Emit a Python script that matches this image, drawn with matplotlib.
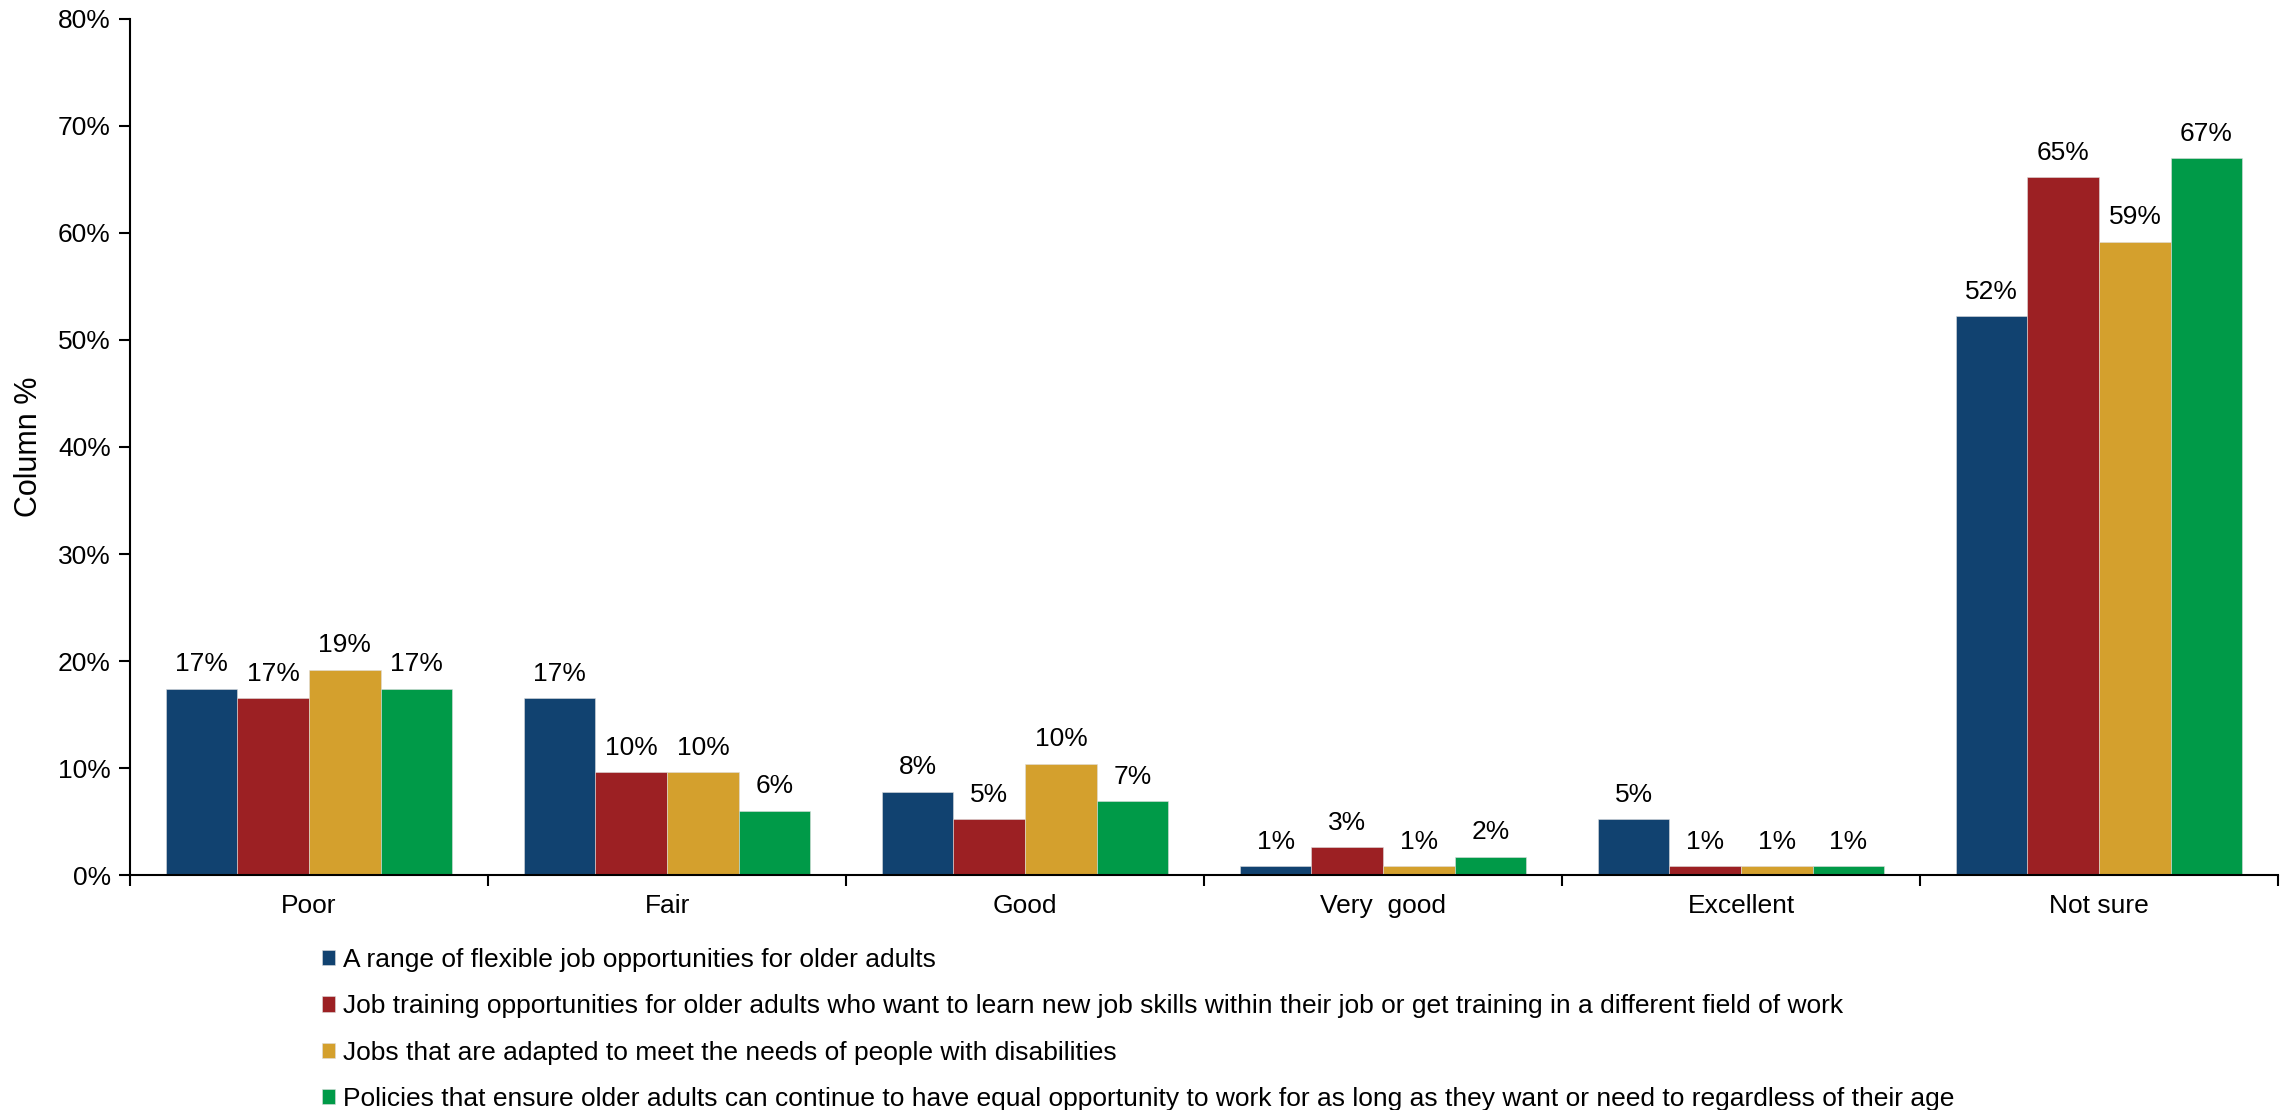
import matplotlib
matplotlib.use("Agg")
import matplotlib.pyplot as plt
import numpy as np
from matplotlib.ticker import FixedLocator, PercentFormatter

categories = ["Poor", "Fair", "Good", "Very  good", "Excellent", "Not sure"]
series_names = [
    "A range of flexible job opportunities for older adults",
    "Job training opportunities for older adults who want to learn new job skills within their job or get training in a different field of work",
    "Jobs that are adapted to meet the needs of people with disabilities",
    "Policies that ensure older adults can continue to have equal opportunity to work for as long as they want or need to regardless of their age",
]
flexible = [17.4, 16.5, 7.8, 0.8, 5.2, 52.2]
training = [16.5, 9.6, 5.2, 2.6, 0.8, 65.2]
adapted = [19.2, 9.6, 10.4, 0.8, 0.8, 59.2]
policies = [17.4, 6.0, 6.9, 1.7, 0.8, 67.0]
flexible_labels = ["17%", "17%", "8%", "1%", "5%", "52%"]
training_labels = ["17%", "10%", "5%", "3%", "1%", "65%"]
adapted_labels = ["19%", "10%", "10%", "1%", "1%", "59%"]
policies_labels = ["17%", "6%", "7%", "2%", "1%", "67%"]
colors = ["#114270", "#9C2023", "#D4A02D", "#009A48"]

series = [flexible, training, adapted, policies]
labels = [flexible_labels, training_labels, adapted_labels, policies_labels]

plt.rcParams['font.family'] = ['Liberation Sans', 'DejaVu Sans']
fig = plt.figure(figsize=(22.9, 11.1), dpi=100)
ax = fig.add_axes([0.0568, 0.2117, 0.938, 0.7712])

FS = 19
n = len(categories)
x = np.arange(n) + 0.5
w = 0.2
handles = []
for i, (vals, labs, col) in enumerate(zip(series, labels, colors)):
    pos = x + (i - 1.5) * w
    bars = ax.bar(pos, vals, width=w, color=col, edgecolor="#dddddd", linewidth=0.4, label=series_names[i])
    handles.append(bars)
    for p, v, t in zip(pos, vals, labs):
        ax.annotate(t, (p, v), xytext=(0, 9), textcoords="offset points",
                    ha="center", va="bottom", fontsize=FS)

ax.set_xlim(0, n)
ax.set_ylim(0, 80)
ax.yaxis.set_major_locator(FixedLocator(np.arange(0, 81, 10)))
ax.yaxis.set_major_formatter(PercentFormatter(decimals=0))
ax.set_xticks(x)
ax.set_xticklabels(categories)
ax.set_xticks(np.arange(0, n + 1), minor=True)
ax.tick_params(axis="x", which="major", length=0, labelsize=FS, pad=14)
ax.tick_params(axis="x", which="minor", length=8, width=1.5, direction="out")
ax.tick_params(axis="y", length=8, width=1.5, direction="out", labelsize=FS, pad=6)
for s in ["top", "right"]:
    ax.spines[s].set_visible(False)
ax.spines["left"].set_linewidth(1.5)
ax.spines["bottom"].set_linewidth(1.5)
ax.set_ylabel("Column %", fontsize=22, labelpad=10)

fig.legend(handles=handles, loc="upper left", bbox_to_anchor=(0.1405, 0.146),
           frameon=False, fontsize=FS, handlelength=0.5, handleheight=0.5,
           handletextpad=0.3, labelspacing=0.85, borderaxespad=0, borderpad=0)

fig.savefig("out.png", dpi=100)
